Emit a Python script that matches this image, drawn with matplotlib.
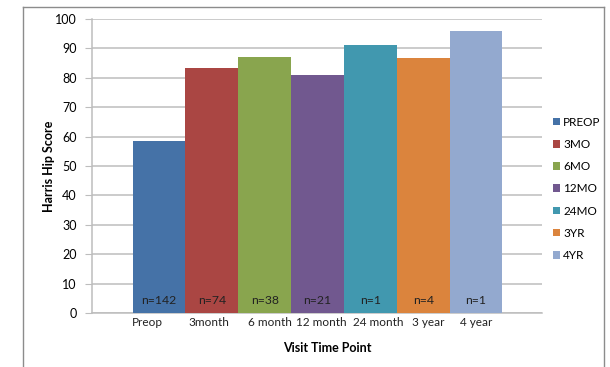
import numpy as np
import matplotlib.pyplot as plt
from matplotlib.lines import Line2D

# Harris hip score by visit, one bar per time point
series = ['PREOP', '3MO', '6MO', '12MO', '24MO', '3YR', '4YR']
visit_labels = ['Preop', '3month', '6 month', '12 month', '24 month', '3 year', '4 year']
scores = [58.6, 83.2, 87.2, 80.8, 91.0, 86.7, 96.0]
counts = [142, 74, 38, 21, 1, 4, 1]

colors = ['#4572A7', '#AA4643', '#89A54E', '#71588F', '#4198AF', '#DB843D', '#93A9CF']
label_shift = [-0.22, -0.05, 0.09, 0.07, 0.14, 0.10, 0.0]

plt.rcParams['font.family'] = ['Lato', 'DejaVu Sans']

W, H = 610, 367
fig = plt.figure(figsize=(W / 100, H / 100), dpi=100)

# outer frame (open at the bottom)
frame_c = '#8c8c8c'
fig.add_artist(Line2D([23 / W, 23 / W], [0, 1 - 7 / H], color=frame_c, lw=1))
fig.add_artist(Line2D([23 / W, 604 / W], [1 - 7 / H, 1 - 7 / H], color=frame_c, lw=1))
fig.add_artist(Line2D([604 / W, 604 / W], [0, 1 - 7 / H], color=frame_c, lw=1))

left, right, top, bottom = 92, 541.5, 19, 313
ax = fig.add_axes([left / W, 1 - bottom / H, (right - left) / W, (bottom - top) / H])

x = np.arange(len(scores))
for i in range(len(scores)):
    ax.bar(x[i], scores[i], width=1.0, color=colors[i], label=series[i],
           linewidth=0, zorder=3)
    ax.text(x[i], 4.1, 'n=%d' % counts[i], ha='center', va='center',
            fontsize=8.8, color='#222222', zorder=4)

ax.set_xlim(-1.27, 7.24)
ax.set_ylim(0, 100)
ax.set_yticks(range(0, 101, 10))
ax.yaxis.grid(True, color='#bdbdbd', linewidth=1.1, zorder=0)
ax.tick_params(axis='y', length=5, color='#bdbdbd', labelsize=9, pad=6)
ax.tick_params(axis='x', length=0, labelbottom=False)
for s in ['top', 'right']:
    ax.spines[s].set_visible(False)
ax.spines['left'].set_color('#bdbdbd')
ax.spines['bottom'].set_color('#bdbdbd')
ax.spines['left'].set_linewidth(1.1)
ax.spines['bottom'].set_linewidth(1.1)

for i, lab in enumerate(visit_labels):
    ax.text(x[i] + label_shift[i], -3.1, lab, ha='center', va='center',
            fontsize=8.5, color='#222222', clip_on=False)

ax.set_ylabel('Harris Hip Score', fontsize=9, fontweight='bold', labelpad=0)
ax.text(327.7 / W, 1 - 348 / H, 'Visit Time Point',
        transform=fig.transFigure, ha='center', va='center',
        fontsize=9, fontweight='bold')

ax.legend(loc='upper left', bbox_to_anchor=(548 / W, 1 - 112 / H),
          bbox_transform=fig.transFigure, frameon=False, fontsize=8.5,
          handlelength=0.6, handleheight=0.6, handletextpad=0.3,
          labelspacing=0.95, borderaxespad=0)

fig.savefig('out.png', dpi=100)
